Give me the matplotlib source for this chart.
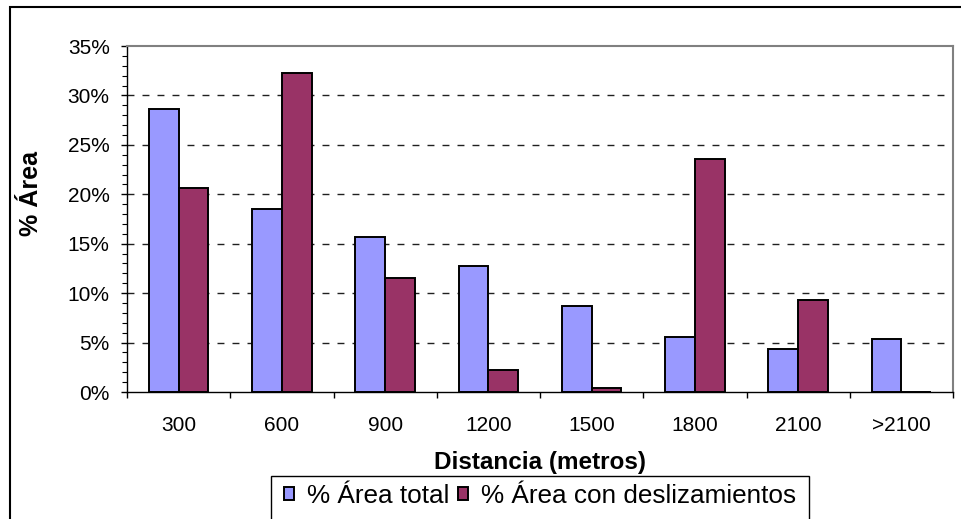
import numpy as np
import matplotlib.pyplot as plt
from matplotlib.patches import Rectangle
from matplotlib.ticker import FixedLocator, MultipleLocator, FuncFormatter

plt.rcParams['font.family'] = ['Liberation Sans', 'DejaVu Sans']

categories = ['300', '600', '900', '1200', '1500', '1800', '2100', '>2100']
area_total = [28.6, 18.5, 15.7, 12.7, 8.7, 5.6, 4.4, 5.4]
area_deslizamientos = [20.6, 32.3, 11.5, 2.2, 0.4, 23.6, 9.3, 0.0]

W, H = 961, 519
fig = plt.figure(figsize=(W / 100, H / 100), dpi=100)

# plot area in pixel terms
px_left, px_right, px_top, px_bottom = 127, 953, 46, 392
ax = fig.add_axes([px_left / W, 1 - px_bottom / H,
                   (px_right - px_left) / W, (px_bottom - px_top) / H])

x = np.arange(len(categories))
bw = 0.2875
ax.bar(x - bw / 2, area_total, bw, color='#9999FF', edgecolor='black',
       linewidth=1.4, label='% Área total', zorder=3)
ax.bar(x + bw / 2, area_deslizamientos, bw, color='#993366', edgecolor='black',
       linewidth=1.4, label='% Área con deslizamientos', zorder=3)

ax.set_xlim(-0.5, len(categories) - 0.5)
ax.set_ylim(0, 35)

# y axis
ax.yaxis.set_major_locator(MultipleLocator(5))
ax.yaxis.set_minor_locator(MultipleLocator(1))
ax.yaxis.set_major_formatter(FuncFormatter(lambda v, p: f'{v:.0f}%'))
ax.tick_params(axis='y', which='major', direction='out', length=4.5, width=1,
               labelsize=15, pad=8)
ax.tick_params(axis='y', which='minor', direction='out', length=3.5, width=0.8)

# x axis: ticks on category boundaries, labels in the middle
ax.xaxis.set_major_locator(FixedLocator(np.arange(-0.5, len(categories), 1.0)))
ax.xaxis.set_minor_locator(FixedLocator(x))
ax.xaxis.set_major_formatter(FuncFormatter(lambda v, p: ''))
ax.set_xticks(x, categories, minor=True)
ax.tick_params(axis='x', which='major', direction='out', length=4.5, width=1)
ax.tick_params(axis='x', which='minor', length=0, labelsize=15, pad=17)

# dashed gridlines
for yv in range(5, 35, 5):
    ax.axhline(yv, color='#202020', linewidth=1.0, linestyle=(0, (5, 5.8)), zorder=1)

for side in ['top', 'right']:
    ax.spines[side].set_color('#808080')
    ax.spines[side].set_linewidth(1.5)
for side in ['left', 'bottom']:
    ax.spines[side].set_color('black')
    ax.spines[side].set_linewidth(1.0)

fig.text(31 / W, 1 - 193 / H, '% Área', rotation=90, fontsize=18,
         fontweight='bold', ha='center', va='center')
fig.text(540 / W, 1 - 463 / H, 'Distancia (metros)', fontsize=17.5,
         fontweight='bold', ha='center', va='center')

# legend with its box running off the bottom edge
handles, labels = ax.get_legend_handles_labels()
fig.legend(handles, labels, loc='center', bbox_to_anchor=(540 / W, 1 - 496 / H),
           ncol=2, frameon=False, fontsize=18.8, handlelength=0.4,
           handleheight=0.4, handletextpad=0.5, columnspacing=0.3)
fig.patches.append(Rectangle((271 / W, -0.1), (809 - 271) / W, 1 - 476 / H + 0.1,
                             transform=fig.transFigure, fill=False,
                             edgecolor='black', linewidth=1.0))

# chart border, cut off at right and bottom
fig.patches.append(Rectangle((10 / W, -0.1), 1.1, 1 - 7 / H + 0.1,
                             transform=fig.transFigure, fill=False,
                             edgecolor='black', linewidth=1.5))

fig.savefig('out.png', dpi=100)
